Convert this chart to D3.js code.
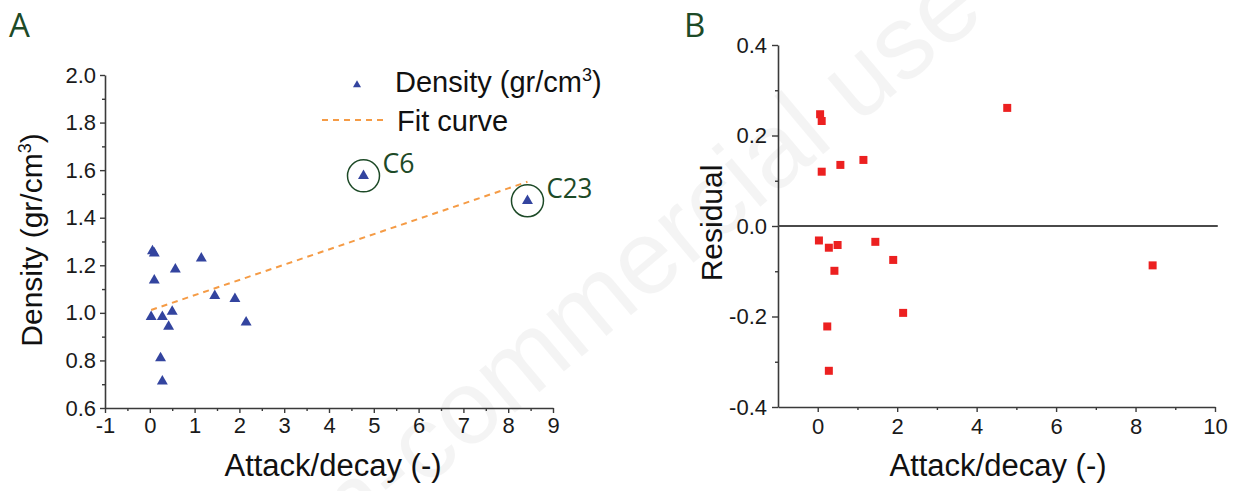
<!DOCTYPE html>
<html>
<head>
<meta charset="utf-8">
<script src="https://cdn.jsdelivr.net/npm/d3@7"></script>
<style>
  body { margin: 0; background: #fff; }
  svg { display: block; }
</style>
</head>
<body>
<svg id="fig" width="1237" height="491"></svg>
<script>
// Attack/decay ratio of each sample and its measured density
const attackDecay = [0.06, 0.10, 0.57, 1.15, 0.10, 1.45, 1.90, 0.03, 0.28, 0.50, 0.42, 2.15, 0.24, 0.28, 4.77, 8.43];
const density     = [1.260, 1.250, 1.183, 1.229, 1.137, 1.072, 1.059, 0.983, 0.983, 1.005, 0.942, 0.960, 0.810, 0.712, 1.576, 1.471];
// Residuals of the linear fit
const residual    = [0.247, 0.232, 0.135, 0.146, 0.120, -0.035, -0.075, -0.032, -0.048, -0.042, -0.099, -0.192, -0.222, -0.320, 0.261, -0.087];
// Linear fit end points
const fitX = [0.03, 8.43];
const fitY = [1.012, 1.551];
// Outlying samples that get circled
const outlierNames   = ["C6", "C23"];
const outlierIndices = [14, 15];

// Tick values
const aXTicks      = [-1, 0, 1, 2, 3, 4, 5, 6, 7, 8, 9];
const aXMinorTicks = [-0.5, 0.5, 1.5, 2.5, 3.5, 4.5, 5.5, 6.5, 7.5, 8.5];
const aYTicks      = [0.6, 0.8, 1.0, 1.2, 1.4, 1.6, 1.8, 2.0];
const aYMinorTicks = [0.7, 0.9, 1.1, 1.3, 1.5, 1.7, 1.9];
const bXTicks      = [0, 2, 4, 6, 8, 10];
const bXMinorTicks = [1, 3, 5, 7, 9];
const bYTicks      = [-0.4, -0.2, 0.0, 0.2, 0.4];
const bYMinorTicks = [-0.3, -0.1, 0.1, 0.3];

const svg = d3.select("#fig");
const AX = "Liberation Sans, Arial, sans-serif";
const LBL = "Open Sans, Noto Sans, sans-serif";
const green = "#1d4a27";
const axisColor = "#3a3a3a";

// Plain hyphen for negative tick labels
const intFmt = d => String(d);
const oneDec = d => d.toFixed(1).replace("\u2212", "-");

// Faint diagonal watermark
svg.append("text")
  .attr("transform", "translate(250,635) rotate(-40)")
  .attr("font-family", AX)
  .attr("font-size", 105)
  .attr("fill", "#000")
  .attr("fill-opacity", 0.045)
  .text("Non-commercial use only");

function styleAxis(g) {
  g.select(".domain").attr("stroke", axisColor).attr("stroke-width", 1.6);
  g.selectAll(".tick line").attr("stroke", axisColor).attr("stroke-width", 1.4);
  g.selectAll(".tick text").attr("fill", "#1a1a1a").attr("font-family", AX).attr("font-size", 22);
}
function minorAxis(g) {
  g.select(".domain").remove();
  g.selectAll(".tick line").attr("stroke", axisColor).attr("stroke-width", 1.4);
}

// ---------------- Panel A ----------------
const xA = d3.scaleLinear().domain([-1, 9]).range([105, 553]);
const yA = d3.scaleLinear().domain([0.6, 2.0]).range([408, 75]);

svg.append("g").attr("transform", "translate(0,408)")
  .call(d3.axisBottom(xA).tickValues(aXMinorTicks).tickSize(3).tickSizeOuter(0).tickFormat(""))
  .call(minorAxis);
svg.append("g").attr("transform", "translate(105,0)")
  .call(d3.axisLeft(yA).tickValues(aYMinorTicks).tickSize(3).tickSizeOuter(0).tickFormat(""))
  .call(minorAxis);

svg.append("g").attr("transform", "translate(0,408)")
  .call(d3.axisBottom(xA).tickValues(aXTicks).tickSize(5).tickSizeOuter(0).tickPadding(4).tickFormat(intFmt))
  .call(styleAxis);
svg.append("g").attr("transform", "translate(105,0)")
  .call(d3.axisLeft(yA).tickValues(aYTicks).tickSize(5).tickSizeOuter(0).tickPadding(4).tickFormat(oneDec))
  .call(styleAxis);

// Fit line
svg.append("path")
  .datum(fitX.map((x, i) => [x, fitY[i]]))
  .attr("d", d3.line().x(d => xA(d[0])).y(d => yA(d[1])))
  .attr("fill", "none")
  .attr("stroke", "#f59b45")
  .attr("stroke-width", 2)
  .attr("stroke-dasharray", "6,5");

// Density markers
const tri = d3.symbol().type(d3.symbolTriangle).size(52);
svg.append("g").selectAll("path")
  .data(attackDecay.map((x, i) => [x, density[i]]))
  .join("path")
  .attr("transform", d => `translate(${xA(d[0])},${yA(d[1])})`)
  .attr("d", tri)
  .attr("fill", "#33449f");

// Circled outliers
outlierIndices.forEach((idx, k) => {
  const cx = xA(attackDecay[idx]), cy = yA(density[idx]);
  svg.append("circle").attr("cx", cx).attr("cy", cy).attr("r", 16)
    .attr("fill", "none").attr("stroke", green).attr("stroke-width", 1.5);
  svg.append("text").attr("x", cx + 19).attr("y", cy - 3)
    .attr("font-family", LBL).attr("font-size", 27).attr("fill", green)
    .attr("textLength", k === 0 ? 32 : 46).attr("lengthAdjust", "spacingAndGlyphs")
    .text(outlierNames[k]);
});

// Legend
svg.append("path").attr("transform", "translate(357,85)")
  .attr("d", d3.symbol().type(d3.symbolTriangle).size(28)).attr("fill", "#33449f");
const legText = svg.append("text").attr("x", 395).attr("y", 92)
  .attr("font-family", AX).attr("font-size", 29).attr("fill", "#111");
legText.append("tspan").text("Density (gr/cm");
legText.append("tspan").attr("font-size", 18).attr("dy", -11).text("3");
legText.append("tspan").attr("dy", 11).text(")");
svg.append("line").attr("x1", 322).attr("x2", 388).attr("y1", 120).attr("y2", 120)
  .attr("stroke", "#f59b45").attr("stroke-width", 2).attr("stroke-dasharray", "6,5");
svg.append("text").attr("x", 397).attr("y", 131)
  .attr("font-family", AX).attr("font-size", 29).attr("fill", "#111")
  .text("Fit curve");

// Axis titles
svg.append("text").attr("x", 333).attr("y", 476).attr("text-anchor", "middle")
  .attr("font-family", AX).attr("font-size", 31).attr("fill", "#111")
  .text("Attack/decay (-)");
const yTitleA = svg.append("text").attr("transform", "translate(42,240) rotate(-90)")
  .attr("text-anchor", "middle").attr("font-family", AX).attr("font-size", 30).attr("fill", "#111");
yTitleA.append("tspan").text("Density (gr/cm");
yTitleA.append("tspan").attr("font-size", 18).attr("dy", -11).text("3");
yTitleA.append("tspan").attr("dy", 11).text(")");

// Panel letter
svg.append("text").attr("x", 9).attr("y", 37)
  .attr("font-family", LBL).attr("font-size", 33).attr("fill", green).text("A");

// ---------------- Panel B ----------------
const xB = d3.scaleLinear().domain([-1, 10]).range([778, 1215]);
const yB = d3.scaleLinear().domain([-0.4, 0.4]).range([407, 45]);

svg.append("g").attr("transform", "translate(0,407)")
  .call(d3.axisBottom(xB).tickValues(bXMinorTicks).tickSize(3).tickSizeOuter(0).tickFormat(""))
  .call(minorAxis);
svg.append("g").attr("transform", "translate(778,0)")
  .call(d3.axisLeft(yB).tickValues(bYMinorTicks).tickSize(3).tickSizeOuter(0).tickFormat(""))
  .call(minorAxis);

svg.append("g").attr("transform", "translate(0,407)")
  .call(d3.axisBottom(xB).tickValues(bXTicks).tickSize(5).tickSizeOuter(0).tickPadding(6).tickFormat(intFmt))
  .call(styleAxis);
svg.append("g").attr("transform", "translate(778,0)")
  .call(d3.axisLeft(yB).tickValues(bYTicks).tickSize(6).tickSizeOuter(0).tickPadding(5).tickFormat(oneDec))
  .call(styleAxis);

// Zero reference line
svg.append("line")
  .attr("x1", xB(-1)).attr("x2", xB(10.07))
  .attr("y1", yB(0)).attr("y2", yB(0))
  .attr("stroke", "#4a4a4a").attr("stroke-width", 2);

// Residual markers
const sq = d3.symbol().type(d3.symbolSquare).size(64);
svg.append("g").selectAll("path")
  .data(attackDecay.map((x, i) => [x, residual[i]]))
  .join("path")
  .attr("transform", d => `translate(${xB(d[0])},${yB(d[1])})`)
  .attr("d", sq)
  .attr("fill", "#ec2020");

svg.append("text").attr("x", 998).attr("y", 476).attr("text-anchor", "middle")
  .attr("font-family", AX).attr("font-size", 31).attr("fill", "#111")
  .text("Attack/decay (-)");
svg.append("text").attr("transform", "translate(722,223) rotate(-90)")
  .attr("text-anchor", "middle").attr("font-family", AX).attr("font-size", 30).attr("fill", "#111")
  .text("Residual");

svg.append("text").attr("x", 684).attr("y", 37)
  .attr("font-family", LBL).attr("font-size", 33).attr("fill", green).text("B");
</script>
</body>
</html>
